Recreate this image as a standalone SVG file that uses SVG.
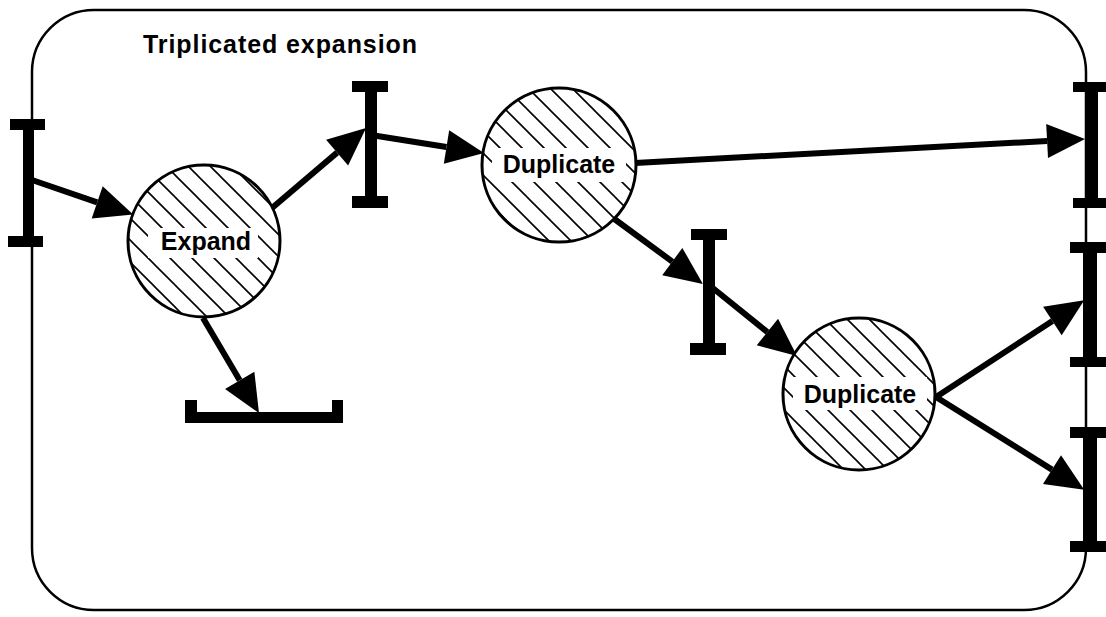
<svg xmlns="http://www.w3.org/2000/svg" width="1106" height="617" viewBox="0 0 1106 617">
  <style>
    .frame { fill: none; stroke: #000; stroke-width: 2.5; }
    .port { fill: #000; }
    .proc { fill: url(#hatch); stroke: #000; stroke-width: 3; }
    .knock { fill: #fff; }
    .label { font-family: "Liberation Sans", Arial, sans-serif; font-weight: bold; font-size: 25px; fill: #000; text-anchor: middle; }
    .title { font-family: "Liberation Sans", Arial, sans-serif; font-weight: bold; font-size: 25px; fill: #000; }
    .flow { stroke: #000; stroke-width: 6; fill: none; marker-end: url(#head); }
  </style>
  <defs>
    <pattern id="hatch" patternUnits="userSpaceOnUse" width="22" height="22">
      <rect width="22" height="22" fill="#fff"/>
      <path d="M-2,-2 L24,24 M-2,20 L2,24 M20,-2 L24,2" stroke="#000" stroke-width="1.6"/>
    </pattern>
    <marker id="head" markerUnits="userSpaceOnUse" markerWidth="40" markerHeight="36" viewBox="0 -18 40 36" refX="0" refY="0" orient="auto" overflow="visible">
      <path d="M0,-17 L38,0 L0,17 Z" fill="#000"/>
    </marker>
  </defs>

  <!-- enclosing process boundary -->
  <rect class="frame" x="32" y="10" width="1054" height="600" rx="62" ry="62"/>
  <text class="title" x="143" y="53" textLength="274" lengthAdjust="spacing">Triplicated  expansion</text>

  <!-- connectors -->
  <g id="connectors">
    <line class="flow" x1="32" y1="180" x2="97.2" y2="202.3"/>
    <line class="flow" x1="272" y1="208" x2="337.1" y2="152.6"/>
    <line class="flow" x1="371" y1="135" x2="446.5" y2="147"/>
    <line class="flow" x1="635" y1="163" x2="1047.1" y2="141"/>
    <line class="flow" x1="613" y1="218" x2="672.3" y2="261.6"/>
    <line class="flow" x1="709" y1="285" x2="767.4" y2="332.1"/>
    <line class="flow" x1="936" y1="397" x2="1052.4" y2="321"/>
    <line class="flow" x1="936" y1="397" x2="1052" y2="469.6"/>
    <line class="flow" x1="203" y1="318" x2="239.7" y2="380.3"/>
  </g>

  <!-- input port, left -->
  <g id="port-in">
    <rect class="port" x="23" y="124" width="11" height="118"/>
    <rect class="port" x="10" y="119" width="35" height="11"/>
    <rect class="port" x="8" y="236" width="35" height="11"/>
  </g>

  <!-- intermediate port after Expand -->
  <g id="port-mid1">
    <rect class="port" x="365" y="86" width="12" height="116"/>
    <rect class="port" x="352" y="81" width="36" height="11"/>
    <rect class="port" x="352" y="196" width="36" height="12"/>
  </g>

  <!-- intermediate port between the Duplicate processes -->
  <g id="port-mid2">
    <rect class="port" x="703" y="234" width="12" height="115"/>
    <rect class="port" x="691" y="229" width="36" height="11"/>
    <rect class="port" x="690" y="343" width="36" height="12"/>
  </g>

  <!-- output bracket below Expand -->
  <g id="port-bottom">
    <rect class="port" x="185" y="412" width="158" height="11"/>
    <rect class="port" x="185" y="400" width="12" height="23"/>
    <rect class="port" x="332" y="400" width="11" height="23"/>
  </g>

  <!-- output ports, right -->
  <g id="port-out-a">
    <rect class="port" x="1085" y="87" width="13" height="116"/>
    <rect class="port" x="1073" y="82" width="40" height="10"/>
    <rect class="port" x="1073" y="198" width="40" height="10"/>
  </g>
  <g id="port-out-b">
    <rect class="port" x="1083" y="247" width="14" height="115"/>
    <rect class="port" x="1070" y="242" width="40" height="11"/>
    <rect class="port" x="1070" y="357" width="40" height="10"/>
  </g>
  <g id="port-out-c">
    <rect class="port" x="1083" y="432" width="14" height="114"/>
    <rect class="port" x="1070" y="427" width="40" height="11"/>
    <rect class="port" x="1070" y="541" width="40" height="11"/>
  </g>

  <!-- processes -->
  <g id="expand">
    <circle class="proc" cx="204" cy="241" r="76"/>
    <rect class="knock" x="148" y="228" width="110" height="30"/>
    <text class="label" x="206" y="250">Expand</text>
  </g>
  <g id="duplicate-1">
    <circle class="proc" cx="559" cy="165" r="77"/>
    <rect class="knock" x="492" y="148" width="134" height="34"/>
    <text class="label" x="559" y="173">Duplicate</text>
  </g>
  <g id="duplicate-2">
    <circle class="proc" cx="859" cy="394" r="76"/>
    <rect class="knock" x="793" y="377" width="134" height="33"/>
    <text class="label" x="860" y="403">Duplicate</text>
  </g>
</svg>
